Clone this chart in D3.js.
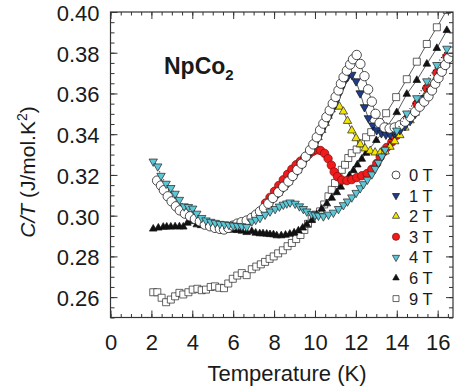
<!DOCTYPE html>
<html>
<head>
<meta charset="utf-8">
<script src="https://cdn.jsdelivr.net/npm/d3@7"></script>
<style>
  body { margin: 0; background: #fff; }
  svg { display: block; }
  text { font-family: "Liberation Sans", Arial, Helvetica, sans-serif; fill: #1a1a1a; }
</style>
</head>
<body>
<svg id="chart" width="456" height="392"></svg>
<script>
// Specific heat divided by temperature of NpCo2 in applied magnetic fields.
const fieldLabels = ["0 T", "1 T", "2 T", "3 T", "4 T", "6 T", "9 T"];
const xTickValues = [0, 2, 4, 6, 8, 10, 12, 14, 16];
const yTickValues = [0.26, 0.28, 0.30, 0.32, 0.34, 0.36, 0.38, 0.40];

// [temperature (K), C/T (J/mol.K^2)]
const field0T = [
  [2.28,0.3172],[2.47,0.3148],[2.61,0.3125],[2.80,0.3095],[2.99,0.3070],[3.20,0.3046],[3.39,0.3026],
  [3.64,0.3010],[3.89,0.2997],[4.13,0.2984],[4.37,0.2972],[4.61,0.2956],[4.87,0.2948],[5.11,0.2940],
  [5.35,0.2935],[5.55,0.2932],[5.76,0.2940],[5.98,0.2951],[6.20,0.2961],[6.41,0.2968],[6.66,0.2976],
  [6.90,0.2989],[7.12,0.3005],[7.31,0.3021],[7.51,0.3038],[7.72,0.3059],[7.94,0.3087],[8.21,0.3115],
  [8.45,0.3142],[8.70,0.3168],[8.91,0.3195],[9.14,0.3225],[9.35,0.3255],[9.55,0.3290],[9.76,0.3322],
  [9.92,0.3350],[10.09,0.3385],[10.25,0.3420],[10.41,0.3452],[10.56,0.3484],[10.72,0.3517],[10.87,0.3550],
  [11.01,0.3583],[11.15,0.3615],[11.27,0.3648],[11.40,0.3680],[11.56,0.3712],[11.72,0.3742],[11.86,0.3768],
  [12.04,0.3789],[12.22,0.3745],[12.42,0.3685],[12.60,0.3620],[12.78,0.3560],[12.96,0.3500],[13.16,0.3455],
  [13.40,0.3433],[13.65,0.3428],[13.90,0.3433],[14.15,0.3444],[14.40,0.3462],[14.65,0.3485],[14.90,0.3510],
  [15.12,0.3535],[15.34,0.3560],[15.55,0.3586],[15.72,0.3615],[15.88,0.3648],[16.04,0.3676],[16.20,0.3707],
  [16.37,0.3740],[16.53,0.3773],[16.69,0.3805]
];
const field1T = [
  [7.72,0.3056],[7.94,0.3082],[8.21,0.3110],[8.45,0.3136],[8.70,0.3162],[8.91,0.3189],[9.14,0.3218],
  [9.35,0.3247],[9.55,0.3280],[9.76,0.3311],[9.96,0.3345],[10.15,0.3380],[10.33,0.3415],[10.50,0.3450],
  [10.67,0.3485],[10.84,0.3520],[11.00,0.3555],[11.14,0.3590],[11.27,0.3622],[11.42,0.3655],[11.60,0.3682],
  [11.80,0.3692],[12.01,0.3660],[12.21,0.3601],[12.42,0.3533],[12.61,0.3479],[12.83,0.3443],[13.02,0.3420],
  [13.25,0.3405],[13.47,0.3398],[13.67,0.3398],[13.90,0.3405],[14.15,0.3420],[14.40,0.3440],[14.65,0.3465],
  [14.90,0.3500],[15.15,0.3545],[15.40,0.3578],[15.65,0.3612],[15.90,0.3650],[16.15,0.3692],[16.40,0.3735],
  [16.65,0.3780]
];
const field2T = [
  [7.72,0.3057],[7.94,0.3084],[8.21,0.3112],[8.45,0.3139],[8.70,0.3166],[8.91,0.3193],[9.14,0.3222],
  [9.35,0.3252],[9.55,0.3285],[9.76,0.3316],[9.96,0.3350],[10.15,0.3385],[10.33,0.3420],[10.50,0.3455],
  [10.64,0.3490],[10.79,0.3522],[10.99,0.3537],[11.20,0.3535],[11.39,0.3511],[11.59,0.3465],[11.80,0.3418],
  [12.01,0.3380],[12.21,0.3350],[12.45,0.3330],[12.70,0.3318],[12.94,0.3310],[13.19,0.3308],[13.43,0.3315],
  [13.67,0.3338],[13.90,0.3365],[14.15,0.3395],[14.40,0.3432],[14.65,0.3468],[14.90,0.3505],[15.15,0.3545],
  [15.40,0.3585],[15.65,0.3623],[15.90,0.3662],[16.15,0.3702],[16.40,0.3742],[16.65,0.3783]
];
const field3T = [
  [7.58,0.3062],[7.80,0.3090],[8.02,0.3120],[8.23,0.3148],[8.45,0.3176],[8.66,0.3203],[8.87,0.3228],
  [9.08,0.3250],[9.29,0.3268],[9.50,0.3285],[9.70,0.3302],[9.90,0.3316],[10.08,0.3323],[10.27,0.3320],
  [10.47,0.3306],[10.64,0.3280],[10.80,0.3248],[10.94,0.3215],[11.10,0.3192],[11.31,0.3175],[11.56,0.3172],
  [11.80,0.3177],[12.04,0.3187],[12.29,0.3196],[12.55,0.3207],[12.78,0.3228],[13.02,0.3256],[13.19,0.3288],
  [13.35,0.3312],[13.51,0.3335],[13.76,0.3362],[14.00,0.3395],[14.49,0.3475],[14.98,0.3549],[15.47,0.3626],
  [15.96,0.3702],[16.45,0.3781]
];
const field4T = [
  [2.09,0.3266],[2.31,0.3242],[2.47,0.3196],[2.72,0.3157],[2.95,0.3136],[3.16,0.3108],[3.37,0.3078],
  [3.60,0.3046],[3.81,0.3043],[4.02,0.3035],[4.22,0.3010],[4.46,0.2989],[4.67,0.2977],[4.90,0.2970],
  [5.12,0.2965],[5.35,0.2960],[5.57,0.2958],[5.79,0.2955],[6.00,0.2952],[6.21,0.2950],[6.42,0.2948],
  [6.66,0.2945],[6.91,0.2972],[7.10,0.2980],[7.31,0.2989],[7.56,0.3005],[7.80,0.3021],[8.05,0.3033],
  [8.26,0.3045],[8.45,0.3054],[8.62,0.3060],[8.78,0.3065],[9.03,0.3059],[9.24,0.3046],[9.43,0.3033],
  [9.60,0.3021],[9.84,0.3008],[10.00,0.3003],[10.17,0.3000],[10.41,0.2997],[10.66,0.3005],[10.90,0.3015],
  [11.15,0.3033],[11.39,0.3052],[11.59,0.3070],[11.80,0.3090],[12.01,0.3112],[12.21,0.3135],[12.37,0.3155],
  [12.56,0.3177],[12.78,0.3203],[12.94,0.3230],[13.10,0.3260],[13.27,0.3291],[13.43,0.3324],[14.00,0.3418],
  [14.49,0.3502],[14.98,0.3577],[15.47,0.3660],[15.96,0.3740],[16.45,0.3820]
];
const field6T = [
  [2.09,0.2935],[2.34,0.2940],[2.58,0.2944],[2.75,0.2945],[2.95,0.2945],[3.16,0.2946],[3.37,0.2946],
  [3.56,0.2945],[3.76,0.2964],[3.97,0.2972],[4.22,0.2956],[4.43,0.2952],[4.65,0.2950],[4.88,0.2946],
  [5.10,0.2942],[5.35,0.2936],[5.60,0.2931],[5.80,0.2931],[6.00,0.2930],[6.20,0.2928],[6.42,0.2925],
  [6.66,0.2918],[6.91,0.2923],[7.10,0.2915],[7.30,0.2912],[7.46,0.2912],[7.64,0.2910],[7.80,0.2908],
  [7.97,0.2907],[8.13,0.2902],[8.35,0.2902],[8.56,0.2905],[8.77,0.2910],[8.98,0.2916],[9.19,0.2926],
  [9.40,0.2940],[9.60,0.2956],[9.84,0.2977],[10.09,0.3005],[10.33,0.3033],[10.58,0.3059],[10.82,0.3087],
  [11.07,0.3114],[11.26,0.3141],[11.47,0.3168],[11.68,0.3196],[11.88,0.3222],[12.07,0.3250],[12.29,0.3278],
  [12.50,0.3307],[13.00,0.3370],[13.51,0.3435],[14.00,0.3507],[14.49,0.3597],[14.98,0.3665],[15.47,0.3745],
  [15.96,0.3822],[16.45,0.3910]
];
const field9T = [
  [2.09,0.2624],[2.29,0.2624],[2.50,0.2597],[2.72,0.2575],[2.95,0.2588],[3.16,0.2604],[3.37,0.2621],
  [3.56,0.2613],[3.81,0.2624],[4.02,0.2637],[4.25,0.2641],[4.46,0.2634],[4.67,0.2637],[4.90,0.2650],
  [5.11,0.2653],[5.32,0.2646],[5.55,0.2644],[5.76,0.2667],[5.98,0.2690],[6.20,0.2706],[6.42,0.2718],
  [6.66,0.2708],[6.91,0.2737],[7.13,0.2750],[7.35,0.2761],[7.56,0.2773],[7.78,0.2788],[7.98,0.2800],
  [8.20,0.2815],[8.43,0.2830],[8.66,0.2850],[8.87,0.2866],[9.08,0.2885],[9.29,0.2905],[9.48,0.2930],
  [9.66,0.2960],[9.84,0.2985],[10.03,0.3005],[10.25,0.3021],[10.45,0.3055],[10.66,0.3095],[10.82,0.3127],
  [10.98,0.3160],[11.15,0.3193],[11.31,0.3225],[11.47,0.3250],[11.63,0.3283],[11.80,0.3307],[12.04,0.3325],
  [12.25,0.3355],[12.50,0.3385],[12.75,0.3410],[13.02,0.3435],[13.48,0.3503],[13.97,0.3582],[14.49,0.3670],
  [14.98,0.3756],[15.47,0.3843],[15.96,0.3925],[16.45,0.4010]
];

// Marker styles per field, in legend order.
const seriesStyle = [
  { data: field0T, shape: "circle", size: 4.7, fill: "#ffffff", stroke: "#222" },
  { data: field1T, shape: "down",   size: 4.2, fill: "#1f3d8c", stroke: "#111" },
  { data: field2T, shape: "up",     size: 4.2, fill: "#f2e600", stroke: "#222" },
  { data: field3T, shape: "circle", size: 4.2, fill: "#f01c1c", stroke: "#8a1010" },
  { data: field4T, shape: "down",   size: 4.2, fill: "#5cc6d6", stroke: "#222" },
  { data: field6T, shape: "up",     size: 3.8, fill: "#111111", stroke: "#111" },
  { data: field9T, shape: "square", size: 3.5, fill: "#ffffff", stroke: "#222" }
];
seriesStyle.forEach((s, i) => { s.label = fieldLabels[i]; s.dotted = (i === 4); });
const drawOrder = [6, 5, 3, 2, 1, 0, 4];

const svg = d3.select("#chart");
const plot = { left: 110.5, right: 453, top: 12, bottom: 317.5 };

const x = d3.scaleLinear().domain([0, 16.75]).range([plot.left, plot.right]);
const y = d3.scaleLinear().domain([0.25, 0.40]).range([plot.bottom, plot.top]);

svg.append("defs").append("clipPath").attr("id", "plotClip")
  .append("rect")
  .attr("x", plot.left).attr("y", plot.top)
  .attr("width", plot.right - plot.left).attr("height", plot.bottom - plot.top);

function symbolPath(shape, r) {
  if (shape === "circle") return null;
  if (shape === "square") return `M${-r},${-r}H${r}V${r}H${-r}Z`;
  const h = r * 1.75, w = r;
  if (shape === "up") return `M0,${-2 * h / 3}L${w},${h / 3}L${-w},${h / 3}Z`;
  return `M0,${2 * h / 3}L${w},${-h / 3}L${-w},${-h / 3}Z`;
}

function drawMarker(g, s, cx, cy, scale) {
  const r = s.size * scale;
  if (s.shape === "circle") {
    g.append("circle").attr("cx", cx).attr("cy", cy).attr("r", r)
      .attr("fill", s.fill).attr("stroke", s.stroke).attr("stroke-width", 0.8);
  } else {
    g.append("path").attr("d", symbolPath(s.shape, r))
      .attr("transform", `translate(${cx},${cy})`)
      .attr("fill", s.fill).attr("stroke", s.stroke).attr("stroke-width", 0.7);
  }
}

// Series: connecting line then markers
const dataLayer = svg.append("g").attr("clip-path", "url(#plotClip)");
const line = d3.line().x(d => x(d[0])).y(d => y(d[1]));
drawOrder.forEach(i => {
  const s = seriesStyle[i];
  const g = dataLayer.append("g");
  g.append("path").datum(s.data).attr("d", line)
    .attr("fill", "none").attr("stroke", s.dotted ? "#111" : "#333")
    .attr("stroke-width", s.dotted ? 1.1 : 0.8)
    .attr("stroke-dasharray", s.dotted ? "1,2" : null);
  s.data.forEach(d => drawMarker(g, s, x(d[0]), y(d[1]), 1));
});

// Axes: ticks point inward on all four sides
const axisColor = "#333";
const minorX = d3.range(0, 16.76, 0.5);
const minorY = d3.range(0, 31).map(k => +(0.25 + k * 0.005).toFixed(3));

function styleAxis(g) {
  g.select(".domain").remove();
  g.selectAll("line").attr("stroke", axisColor).attr("stroke-width", 1);
}

svg.append("g").attr("transform", `translate(0,${plot.bottom})`)
  .call(d3.axisBottom(x).tickValues(minorX).tickSize(-3.5).tickFormat("")).call(styleAxis);
const xAxis = svg.append("g").attr("transform", `translate(0,${plot.bottom})`)
  .call(d3.axisBottom(x).tickValues(xTickValues).tickSize(-7).tickPadding(17).tickFormat(d3.format("d")))
  .call(styleAxis);
xAxis.selectAll("text").attr("font-size", 22).attr("fill", "#1a1a1a")
  .style("font-family", '"Liberation Sans", Arial, sans-serif');

svg.append("g").attr("transform", `translate(0,${plot.top})`)
  .call(d3.axisTop(x).tickValues(minorX).tickSize(-3.5).tickFormat("")).call(styleAxis);
svg.append("g").attr("transform", `translate(0,${plot.top})`)
  .call(d3.axisTop(x).tickValues(xTickValues).tickSize(-7).tickFormat("")).call(styleAxis);

svg.append("g").attr("transform", `translate(${plot.left},0)`)
  .call(d3.axisLeft(y).tickValues(minorY).tickSize(-4).tickFormat("")).call(styleAxis);
const yAxis = svg.append("g").attr("transform", `translate(${plot.left},0)`)
  .call(d3.axisLeft(y).tickValues(yTickValues).tickSize(-7).tickPadding(11).tickFormat(d3.format(".2f")))
  .call(styleAxis);
yAxis.selectAll("text").attr("font-size", 22).attr("fill", "#1a1a1a").attr("dy", "0.38em")
  .style("font-family", '"Liberation Sans", Arial, sans-serif');

svg.append("g").attr("transform", `translate(${plot.right},0)`)
  .call(d3.axisRight(y).tickValues(minorY).tickSize(-4).tickFormat("")).call(styleAxis);
svg.append("g").attr("transform", `translate(${plot.right},0)`)
  .call(d3.axisRight(y).tickValues(yTickValues).tickSize(-7).tickFormat("")).call(styleAxis);

// Frame
svg.append("rect")
  .attr("x", plot.left).attr("y", plot.top)
  .attr("width", plot.right - plot.left).attr("height", plot.bottom - plot.top)
  .attr("fill", "none").attr("stroke", axisColor).attr("stroke-width", 1.2);

// Axis titles
svg.append("text").attr("x", 287).attr("y", 381).attr("text-anchor", "middle")
  .attr("font-size", 22).text("Temperature (K)");

const yTitle = svg.append("text")
  .attr("transform", "translate(35,172) rotate(-90)")
  .attr("text-anchor", "middle").attr("font-size", 21);
yTitle.append("tspan").attr("font-style", "italic").text("C/T");
yTitle.append("tspan").text(" (J/mol.K");
yTitle.append("tspan").attr("font-size", 14).attr("dy", -8).text("2");
yTitle.append("tspan").attr("dy", 8).text(")");

// Compound label
const compound = svg.append("text").attr("x", 164).attr("y", 74)
  .attr("font-size", 23).attr("font-weight", "bold");
compound.append("tspan").text("NpCo");
compound.append("tspan").attr("font-size", 15).attr("dy", 6).text("2");

// Legend
const legend = svg.append("g");
seriesStyle.forEach((s, i) => {
  const cy = 175 + i * 20.6;
  drawMarker(legend, s, 396, cy, 0.85);
  legend.append("text").attr("x", 409).attr("y", cy + 6)
    .attr("font-size", 16.5).text(s.label);
});
</script>
</body>
</html>
